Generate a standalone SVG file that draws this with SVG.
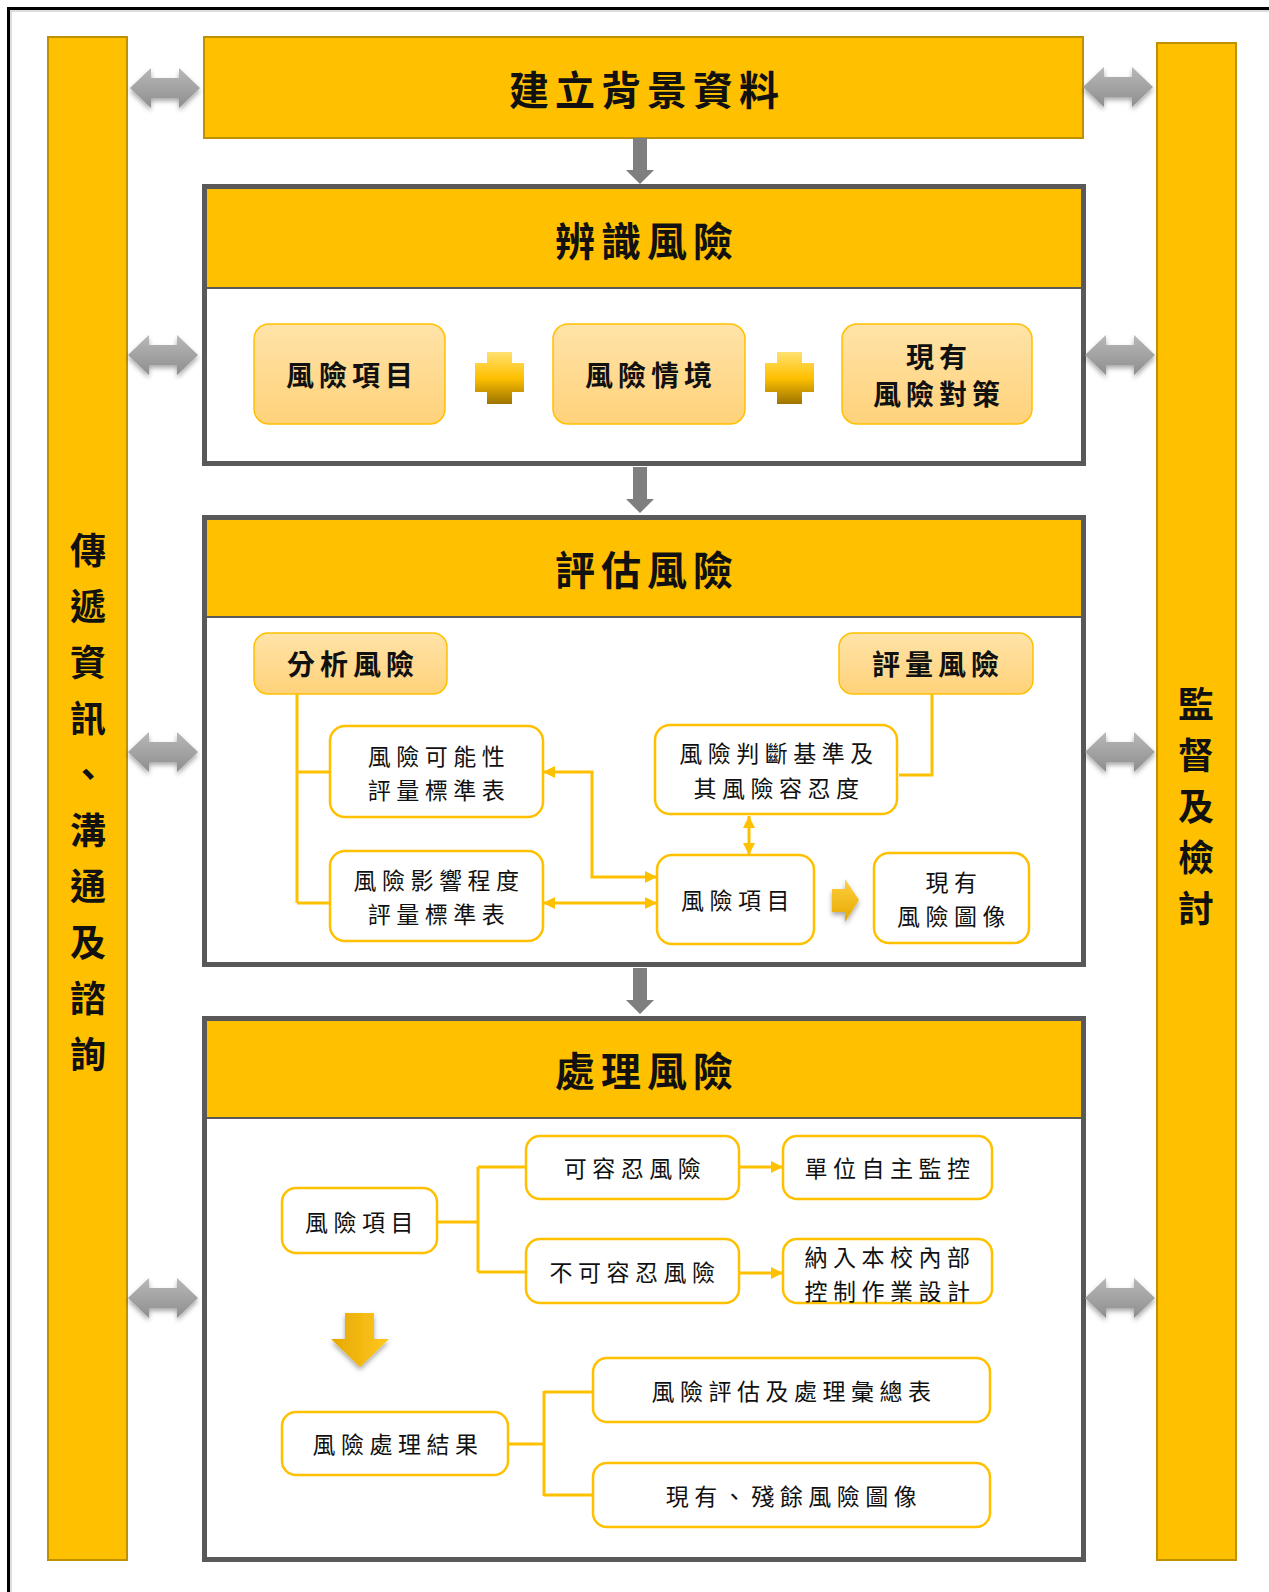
<svg xmlns="http://www.w3.org/2000/svg" width="1269" height="1592" viewBox="0 0 1269 1592">
<defs>
<style>
.bar{fill:#FFC000;stroke:#BF9000;stroke-width:2}
.sec{fill:#FFFFFF;stroke:#595959;stroke-width:5}
.hdr{fill:#FFC000}
.hline{stroke:#595959;stroke-width:2}
.lbox{fill:url(#lg);stroke:#FFC000;stroke-width:1.5}
.wbox{fill:#FFFFFF;stroke:#FFC000;stroke-width:2.5}
.t{font-family:"Noto Sans CJK TC","Noto Sans CJK SC",sans-serif;fill:#111;text-anchor:middle;dominant-baseline:central}
.th{font-size:40px;font-weight:bold;letter-spacing:6px}
.tb{font-size:28px;font-weight:bold;letter-spacing:5px}
.ts{font-size:23px;letter-spacing:5.5px}
.tv{font-size:36px;font-weight:bold}
.con{fill:none;stroke:#FFC000;stroke-width:3}
</style>
<linearGradient id="lg" x1="0" y1="0" x2="0" y2="1">
<stop offset="0" stop-color="#FFE3A8"/>
<stop offset="1" stop-color="#FFD27A"/>
</linearGradient>
<linearGradient id="gg" x1="0" y1="0" x2="0" y2="1">
<stop offset="0" stop-color="#B8B8B8"/>
<stop offset="1" stop-color="#8E8E8E"/>
</linearGradient>
<linearGradient id="pg" x1="0" y1="0" x2="0" y2="1">
<stop offset="0" stop-color="#FFE070"/>
<stop offset="0.5" stop-color="#FFC000"/>
<stop offset="1" stop-color="#9C7400"/>
</linearGradient>
<linearGradient id="yg" x1="0" y1="0" x2="1" y2="0">
<stop offset="0" stop-color="#E6A800"/>
<stop offset="1" stop-color="#FFC820"/>
</linearGradient>
<linearGradient id="yv" x1="0" y1="0" x2="0" y2="1">
<stop offset="0" stop-color="#FFD040"/>
<stop offset="1" stop-color="#E6A800"/>
</linearGradient>
<filter id="sh" x="-30%" y="-30%" width="160%" height="180%">
<feDropShadow dx="0" dy="3" stdDeviation="2.5" flood-color="#000" flood-opacity="0.35"/>
</filter>
<polygon id="dbl" points="-35,0 -14,-20 -14,-10 14,-10 14,-20 35,0 14,20 14,10 -14,10 -14,20" fill="url(#gg)"/>
<polygon id="down" points="-7,0 7,0 7,32 14,32 0,46 -14,32 -7,32" fill="#7F7F7F"/>
<path id="plus" d="M12,0 H37 V11 H49 V40 H37 V52 H12 V40 H0 V11 H12 Z" fill="url(#pg)"/>
<marker id="ah" viewBox="0 0 12 12" refX="12" refY="6" markerWidth="12" markerHeight="12" markerUnits="userSpaceOnUse" orient="auto-start-reverse">
<path d="M0,0 L12,6 L0,12 Z" fill="#FFC000"/>
</marker>
</defs>

<rect x="0" y="0" width="1269" height="1592" fill="#FFFFFF"/>
<rect x="8.5" y="8.5" width="1300" height="1650" fill="#FFFFFF" stroke="#000" stroke-width="3"/>
<rect x="11" y="11" width="1300" height="1650" fill="none" stroke="#BBBBBB" stroke-width="1"/>

<g id="left-bar">
<rect class="bar" x="48" y="37" width="79" height="1523"/>
<text class="t tv" x="88" y="548">傳<tspan x="88" dy="56">遞</tspan><tspan x="88" dy="56">資</tspan><tspan x="88" dy="56">訊</tspan><tspan x="88" dy="56">、</tspan><tspan x="88" dy="56">溝</tspan><tspan x="88" dy="56">通</tspan><tspan x="88" dy="56">及</tspan><tspan x="88" dy="56">諮</tspan><tspan x="88" dy="56">詢</tspan></text>
</g>

<g id="right-bar">
<rect class="bar" x="1157" y="43" width="79" height="1517"/>
<text class="t tv" x="1196" y="702">監<tspan x="1196" dy="51">督</tspan><tspan x="1196" dy="51">及</tspan><tspan x="1196" dy="51">檢</tspan><tspan x="1196" dy="51">討</tspan></text>
</g>

<g id="context">
<rect class="bar" x="204" y="37" width="879" height="101"/>
<text class="t th" x="647" y="88">建立背景資料</text>
</g>

<g id="identify">
<rect class="sec" x="204.5" y="186.5" width="879" height="277"/>
<rect class="hdr" x="207" y="189" width="874" height="98"/>
<line class="hline" x1="207" y1="288" x2="1081" y2="288"/>
<text class="t th" x="647" y="239">辨識風險</text>
<g id="id-item"><rect class="lbox" x="254" y="324" width="191" height="100" rx="15"/><text class="t tb" x="352" y="374">風險項目</text></g>
<g id="id-scene"><rect class="lbox" x="553" y="324" width="192" height="100" rx="15"/><text class="t tb" x="651" y="374">風險情境</text></g>
<g id="id-measure"><rect class="lbox" x="842" y="324" width="190" height="100" rx="15"/><text class="t tb" x="939" y="356">現有</text><text class="t tb" x="939" y="393">風險對策</text></g>
<use href="#plus" x="475" y="352"/>
<use href="#plus" x="765" y="352"/>
</g>

<g id="assess">
<rect class="sec" x="204.5" y="517.5" width="879" height="447"/>
<rect class="hdr" x="207" y="520" width="874" height="96"/>
<line class="hline" x1="207" y1="617" x2="1081" y2="617"/>
<text class="t th" x="647" y="568">評估風險</text>
<g id="analyze"><rect class="lbox" x="254" y="633" width="193" height="61" rx="14"/><text class="t tb" x="353" y="663">分析風險</text></g>
<g id="evaluate"><rect class="lbox" x="839" y="633" width="194" height="61" rx="14"/><text class="t tb" x="938" y="663">評量風險</text></g>
<g id="likelihood"><rect class="wbox" x="330" y="726" width="213" height="91" rx="15"/><text class="t ts" x="439" y="755">風險可能性</text><text class="t ts" x="439" y="789">評量標準表</text></g>
<g id="impact"><rect class="wbox" x="330" y="851" width="213" height="90" rx="15"/><text class="t ts" x="439" y="879">風險影響程度</text><text class="t ts" x="439" y="913">評量標準表</text></g>
<g id="criteria"><rect class="wbox" x="655" y="725" width="242" height="89" rx="15"/><text class="t ts" x="779" y="752">風險判斷基準及</text><text class="t ts" x="779" y="787">其風險容忍度</text></g>
<g id="as-item"><rect class="wbox" x="657" y="855" width="157" height="89" rx="15"/><text class="t ts" x="738" y="899">風險項目</text></g>
<g id="risk-map"><rect class="wbox" x="874" y="853" width="155" height="90" rx="15"/><text class="t ts" x="954" y="881">現有</text><text class="t ts" x="954" y="915">風險圖像</text></g>
<polygon points="832,889 845,889 845,879 859,900 845,922 845,912 832,912" fill="url(#yv)" filter="url(#sh)"/>
</g>

<g id="treat">
<rect class="sec" x="204.5" y="1018.5" width="879" height="541"/>
<rect class="hdr" x="207" y="1021" width="874" height="96"/>
<line class="hline" x1="207" y1="1118" x2="1081" y2="1118"/>
<text class="t th" x="647" y="1069">處理風險</text>
<g id="tr-item"><rect class="wbox" x="282" y="1188" width="155" height="65" rx="14"/><text class="t ts" x="362" y="1221">風險項目</text></g>
<g id="tolerable"><rect class="wbox" x="526" y="1136" width="213" height="63" rx="14"/><text class="t ts" x="635" y="1167">可容忍風險</text></g>
<g id="intolerable"><rect class="wbox" x="526" y="1239" width="213" height="64" rx="14"/><text class="t ts" x="635" y="1271">不可容忍風險</text></g>
<g id="self-monitor"><rect class="wbox" x="783" y="1136" width="209" height="63" rx="14"/><text class="t ts" x="890" y="1167">單位自主監控</text></g>
<g id="internal-control"><rect class="wbox" x="783" y="1239" width="209" height="64" rx="14"/><text class="t ts" x="890" y="1256">納入本校內部</text><text class="t ts" x="890" y="1290">控制作業設計</text></g>
<g id="result"><rect class="wbox" x="282" y="1412" width="226" height="63" rx="14"/><text class="t ts" x="398" y="1443">風險處理結果</text></g>
<g id="summary"><rect class="wbox" x="593" y="1358" width="397" height="64" rx="14"/><text class="t ts" x="794" y="1390">風險評估及處理彙總表</text></g>
<g id="residual"><rect class="wbox" x="593" y="1463" width="397" height="64" rx="14"/><text class="t ts" x="794" y="1495">現有、殘餘風險圖像</text></g>
<polygon points="345,1313 374,1313 374,1339 389,1339 360,1367 331,1339 345,1339" fill="url(#yg)" filter="url(#sh)"/>
</g>

<g id="connectors">
<use href="#down" x="640" y="138"/>
<use href="#down" x="640" y="467"/>
<use href="#down" x="640" y="968"/>
<g filter="url(#sh)">
<use href="#dbl" x="165" y="88"/>
<use href="#dbl" x="163" y="355"/>
<use href="#dbl" x="163" y="752"/>
<use href="#dbl" x="163" y="1298"/>
<use href="#dbl" x="1118" y="87"/>
<use href="#dbl" x="1120" y="355"/>
<use href="#dbl" x="1120" y="752"/>
<use href="#dbl" x="1120" y="1298"/>
</g>
<path class="con" d="M297,694 V903 M297,772 H330 M297,903 H330"/>
<path class="con" d="M932,694 V775 H899"/>
<path class="con" d="M543,772 H592 V877 H657" marker-start="url(#ah)" marker-end="url(#ah)"/>
<path class="con" d="M543,903 H657" marker-start="url(#ah)" marker-end="url(#ah)"/>
<path class="con" d="M749,816 V855" marker-start="url(#ah)" marker-end="url(#ah)"/>
<path class="con" d="M437,1222 H478 M478,1167 V1272 M478,1167 H526 M478,1272 H526"/>
<path class="con" d="M739,1167 H783" marker-end="url(#ah)"/>
<path class="con" d="M739,1273 H783" marker-end="url(#ah)"/>
<path class="con" d="M508,1444 H544 M544,1391 V1496 M544,1392 H593 M544,1495 H593"/>
</g>
</svg>
